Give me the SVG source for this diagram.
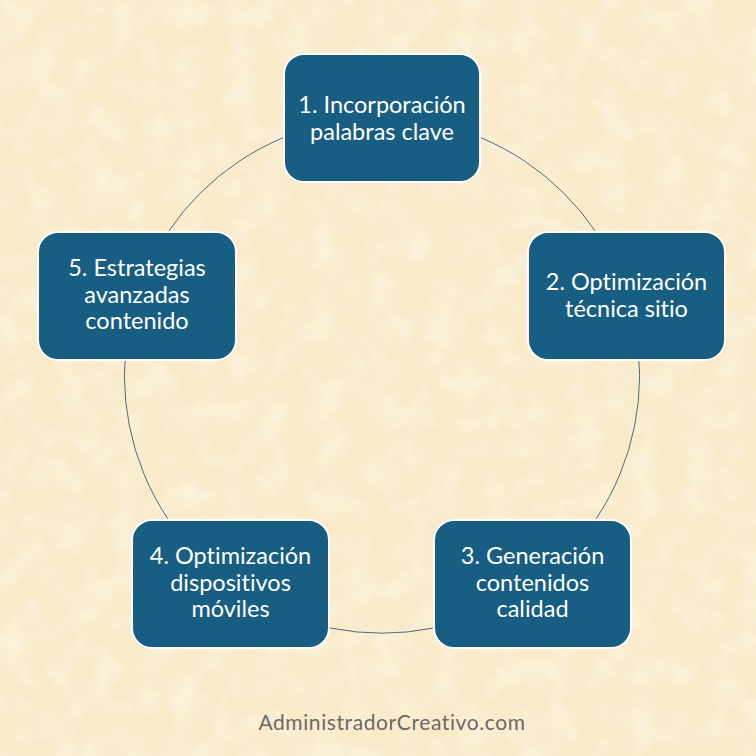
<svg xmlns="http://www.w3.org/2000/svg" width="756" height="756" viewBox="0 0 756 756">
<style>
.box{fill:#175E82;stroke:#ffffff;stroke-width:2}
.t{font-family:Lato,"Noto Sans",sans-serif;font-size:23.5px;fill:#ffffff;text-anchor:middle;font-variant-ligatures:none}
.conn{fill:none;stroke:#4E6C80;stroke-width:1}
.foot{font-family:Lato,"Noto Sans",sans-serif;font-size:21px;fill:#6A6A66;text-anchor:middle;letter-spacing:0.6px;font-variant-ligatures:none}
</style>
<defs>
<filter id="tex" x="0" y="0" width="100%" height="100%">
<feTurbulence type="fractalNoise" baseFrequency="0.035" numOctaves="3" seed="4"/>
<feColorMatrix type="matrix" values="0 0 0 0 1  0 0 0 0 0.98  0 0 0 0 0.92  0 0 0 -1.6 1.0"/>
</filter>
</defs>
<rect width="756" height="756" fill="#F9EAC9"/>
<rect width="756" height="756" filter="url(#tex)" opacity="0.55"/>
<g id="connectors">
<circle class="conn" cx="382" cy="375.6" r="257.6"/>
</g>
<g id="node1">
<rect class="box" x="284" y="54" width="196" height="128" rx="20"/>
<text class="t" x="382" y="112.5">1. Incorporación</text>
<text class="t" x="382" y="139.5">palabras clave</text>
</g>
<g id="node2">
<rect class="box" x="528" y="232" width="197" height="128" rx="20"/>
<text class="t" x="626.5" y="289.5">2. Optimización</text>
<text class="t" x="626.5" y="316.5">técnica sitio</text>
</g>
<g id="node3">
<rect class="box" x="434" y="520" width="197" height="128" rx="20"/>
<text class="t" x="532.5" y="564">3. Generación</text>
<text class="t" x="532.5" y="590.5">contenidos</text>
<text class="t" x="532.5" y="617">calidad</text>
</g>
<g id="node4">
<rect class="box" x="132" y="520" width="197" height="128" rx="20"/>
<text class="t" x="230.5" y="564">4. Optimización</text>
<text class="t" x="230.5" y="590.5">dispositivos</text>
<text class="t" x="230.5" y="617">móviles</text>
</g>
<g id="node5">
<rect class="box" x="38" y="232" width="198" height="128" rx="20"/>
<text class="t" x="137" y="276">5. Estrategias</text>
<text class="t" x="137" y="302.5">avanzadas</text>
<text class="t" x="137" y="329">contenido</text>
</g>
<text class="foot" x="392" y="730">AdministradorCreativo.com</text>
</svg>
